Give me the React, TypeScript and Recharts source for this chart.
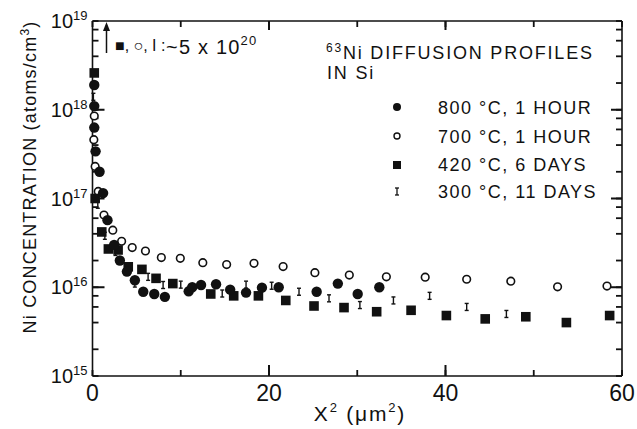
import React from 'react';
import { ScatterChart, Scatter, XAxis, YAxis } from 'recharts';

// ---- data (x = X^2 in um^2, y = Ni concentration in atoms/cm^3) ----
const x800 = [0.2, 0.2, 0.2, 0.35, 0.8, 1.2, 1.7, 2.45, 3.1, 3.9, 4.8, 5.75, 7.0, 8.2, 10.9, 11.3, 12.3, 14.0, 15.6, 17.4, 19.2, 21.1, 25.4, 27.8, 30.05, 32.5];
const y800 = [1.9e18, 1.1e18, 6.3e17, 3.4e17, 2.0e17, 1.15e17, 5.7e16, 3.0e16, 2.0e16, 1.5e16, 1.2e16, 8.9e15, 8.4e15, 7.8e15, 9.0e15, 1.0e16, 1.06e16, 1.08e16, 9.4e15, 8.7e15, 9.9e15, 1.0e16, 8.9e15, 1.1e16, 8.4e15, 1.0e16];

const x700 = [0.2, 0.15, 0.3, 0.65, 1.3, 2.3, 3.3, 4.5, 6.0, 7.8, 9.95, 12.5, 15.2, 18.3, 21.6, 25.2, 29.1, 33.3, 37.7, 42.4, 47.4, 52.7, 58.3];
const y700 = [8.5e17, 4.6e17, 2.3e17, 1.2e17, 6.5e16, 4.4e16, 3.3e16, 2.8e16, 2.56e16, 2.16e16, 2.12e16, 1.89e16, 1.8e16, 1.86e16, 1.71e16, 1.46e16, 1.37e16, 1.31e16, 1.3e16, 1.23e16, 1.17e16, 1.01e16, 1.03e16];

const x420 = [0.2, 0.3, 1.05, 1.8, 2.9, 4.05, 5.6, 7.2, 9.1, 13.4, 16.0, 18.8, 21.9, 25.1, 28.5, 32.2, 36.1, 40.1, 44.5, 49.1, 53.7, 58.6];
const y420 = [2.6e18, 1.0e17, 4.2e16, 2.7e16, 2.63e16, 1.7e16, 1.59e16, 1.26e16, 1.1e16, 8.4e15, 8.0e15, 8.0e15, 7.1e15, 6.15e15, 5.9e15, 5.3e15, 5.5e15, 4.8e15, 4.4e15, 4.65e15, 4.0e15, 4.8e15];

const x300 = [0.1, 0.6, 1.4, 2.6, 4.8, 6.3, 8.0, 10.0, 14.7, 17.4, 20.3, 23.4, 26.8, 30.3, 34.1, 38.2, 42.4, 46.9];
const y300 = [1.4e18, 8.5e16, 3.8e16, 2.5e16, 1.1e16, 1.31e16, 1.06e16, 1.07e16, 8.5e15, 1.07e16, 1.04e16, 8.9e15, 7.5e15, 6.3e15, 7.1e15, 8.0e15, 6.0e15, 5.0e15];

const seriesNames = ['800 °C, 1 HOUR', '700 °C, 1 HOUR', '420 °C, 6 DAYS', '300 °C, 11 DAYS'];

const xTicks = [0, 10, 20, 30, 40, 50, 60];
const xLabeled = [0, 20, 40, 60];
const yDecades = [1e15, 1e16, 1e17, 1e18, 1e19];
const yMinorMultipliers = [2, 4, 6, 8];
const yTicks = [
  ...yDecades,
  ...yDecades.slice(0, 4).flatMap((d) => yMinorMultipliers.map((m) => m * d)),
].sort((a, b) => a - b);

const toData = (xs: number[], ys: number[]) => xs.map((x, i) => ({ x, y: ys[i] }));
const d800 = toData(x800, y800);
const d700 = toData(x700, y700);
const d420 = toData(x420, y420);
const d300 = toData(x300, y300);

const INK = '#111111';
const FONT = '"Liberation Sans", Arial, Helvetica, sans-serif';
const MINOR = 6; // native inward tick length (minor ticks)

const isDecade = (v: number) => {
  const e = Math.round(Math.log10(v));
  return Math.abs(v - Math.pow(10, e)) < 1e-6 * v;
};

// ---- markers ----
const FilledCircle = (p: any) => <circle cx={p.cx} cy={p.cy} r={5.2} fill={INK} />;
const OpenCircle = (p: any) => (
  <circle cx={p.cx} cy={p.cy} r={3.8} fill="#fff" stroke={INK} strokeWidth={1.6} />
);
const FilledSquare = (p: any) => (
  <rect x={p.cx - 4.8} y={p.cy - 4.8} width={9.6} height={9.6} fill={INK} />
);
const IBar = (p: any) => (
  <g stroke={INK} strokeWidth={1.4}>
    <line x1={p.cx} y1={p.cy - 3.5} x2={p.cx} y2={p.cy + 3.5} />
    <line x1={p.cx - 2} y1={p.cy - 3.5} x2={p.cx + 2} y2={p.cy - 3.5} />
    <line x1={p.cx - 2} y1={p.cy + 3.5} x2={p.cx + 2} y2={p.cy + 3.5} />
  </g>
);

// ---- tick renderers: native inward tick lines (length MINOR) + longer major marks ----
// bottom: ty = axisY - MINOR
const renderBottomTick = (props: any) => {
  const x = Number(props.x);
  const axisY = Number(props.y) + MINOR;
  const v = props.payload.value;
  const major = v % 20 === 0 && v !== 0 && v !== 60;
  return (
    <g key={`b-${v}`}>
      <rect x={x - 1} y={axisY - (major ? 11 : 0)} width={2} height={major ? 11 : 0} fill={INK} />
      <text x={x} y={axisY + 25} textAnchor="middle" fontSize={23} fill={INK} fontFamily={FONT}>
        {xLabeled.includes(v) ? String(v) : ''}
      </text>
    </g>
  );
};

// top: ty = axisY + MINOR
const renderTopTick = (props: any) => {
  const x = Number(props.x);
  const axisY = Number(props.y) - MINOR;
  const v = props.payload.value;
  const major = v % 20 === 0 && v !== 0 && v !== 60;
  return (
    <g key={`t-${v}`}>
      <rect x={x - 1} y={axisY} width={2} height={major ? 9 : 0} fill={INK} />
    </g>
  );
};

// left: tx = axisX + MINOR
const renderLeftTick = (props: any) => {
  const axisX = Number(props.x) - MINOR;
  const y = Number(props.y);
  const v = props.payload.value;
  const dec = isDecade(v);
  const e = Math.round(Math.log10(v));
  const long = dec && v !== 1e15 && v !== 1e19;
  return (
    <g key={`l-${v}`}>
      <rect x={axisX} y={y - 1} width={long ? 12 : 0} height={2} fill={INK} />
      {dec && (
        <text x={axisX - 5} y={y + 7} textAnchor="end" fontSize={20} fill={INK} fontFamily={FONT}>
          <tspan>10</tspan>
          <tspan fontSize={13} dy={-8}>
            {e}
          </tspan>
        </text>
      )}
    </g>
  );
};

// right: tx = axisX - MINOR
const renderRightTick = (props: any) => {
  const axisX = Number(props.x) + MINOR;
  const y = Number(props.y);
  const v = props.payload.value;
  const long = isDecade(v) && v !== 1e15 && v !== 1e19;
  return (
    <g key={`r-${v}`}>
      <rect x={axisX - (long ? 11 : 0)} y={y - 1} width={long ? 11 : 0} height={2} fill={INK} />
    </g>
  );
};

const tickLineStyle = { stroke: INK, strokeWidth: 1.8 };

export default function App() {
  return (
    <div style={{ position: 'relative', width: 637, height: 429 }}>
      <style>{`body{margin:0;background:#fff}`}</style>
      <ScatterChart
        width={637}
        height={429}
        margin={{ top: 11, right: 5, bottom: 13, left: 30.5 }}
      >
        <XAxis
          xAxisId="b"
          dataKey="x"
          type="number"
          domain={[0, 60]}
          ticks={xTicks}
          interval={0}
          height={40}
          tickSize={-MINOR}
          tickMargin={0}
          tickLine={tickLineStyle}
          axisLine={{ stroke: INK, strokeWidth: 1.6 }}
          tick={renderBottomTick}
        />
        <XAxis
          xAxisId="t"
          orientation="top"
          dataKey="x"
          type="number"
          domain={[0, 60]}
          ticks={xTicks}
          interval={0}
          height={10}
          tickSize={-MINOR}
          tickMargin={0}
          tickLine={tickLineStyle}
          axisLine={{ stroke: INK, strokeWidth: 1.6 }}
          tick={renderTopTick}
        />
        <YAxis
          yAxisId="l"
          dataKey="y"
          type="number"
          scale="log"
          domain={[1e15, 1e19]}
          ticks={yTicks}
          interval={0}
          width={62}
          tickSize={-MINOR}
          tickMargin={0}
          tickLine={tickLineStyle}
          axisLine={{ stroke: INK, strokeWidth: 1.6 }}
          tick={renderLeftTick}
        />
        <YAxis
          yAxisId="r"
          orientation="right"
          dataKey="y"
          type="number"
          scale="log"
          domain={[1e15, 1e19]}
          ticks={yTicks}
          interval={0}
          width={10}
          tickSize={-MINOR}
          tickMargin={0}
          tickLine={tickLineStyle}
          axisLine={{ stroke: INK, strokeWidth: 1.6 }}
          tick={renderRightTick}
        />
        <Scatter data={d700} xAxisId="t" yAxisId="r" shape={() => <g />} isAnimationActive={false} legendType="none" />
        <Scatter name={seriesNames[1]} data={d700} xAxisId="b" yAxisId="l" shape={OpenCircle} isAnimationActive={false} />
        <Scatter name={seriesNames[3]} data={d300} xAxisId="b" yAxisId="l" shape={IBar} isAnimationActive={false} />
        <Scatter name={seriesNames[2]} data={d420} xAxisId="b" yAxisId="l" shape={FilledSquare} isAnimationActive={false} />
        <Scatter name={seriesNames[0]} data={d800} xAxisId="b" yAxisId="l" shape={FilledCircle} isAnimationActive={false} />
      </ScatterChart>

      <svg
        width={637}
        height={429}
        style={{ position: 'absolute', left: 0, top: 0, pointerEvents: 'none' }}
        fontFamily={FONT}
        fill={INK}
      >
        {/* axis titles */}
        <text x={360} y={421} textAnchor="middle" fontSize={21} letterSpacing={1.8}>
          <tspan>X</tspan>
          <tspan fontSize={13} dy={-9}>2</tspan>
          <tspan dy={9}> (μm</tspan>
          <tspan fontSize={13} dy={-9}>2</tspan>
          <tspan dy={9}>)</tspan>
        </text>
        <text
          transform="translate(36,177) rotate(-90)"
          x={0}
          y={0}
          textAnchor="middle"
          fontSize={18}
          letterSpacing={1.2}
        >
          <tspan>Ni CONCENTRATION (atoms/cm</tspan>
          <tspan fontSize={12} dy={-7}>3</tspan>
          <tspan dy={7}>)</tspan>
        </text>

        {/* annotation arrow */}
        <line x1={106.5} y1={53} x2={106.5} y2={28} stroke={INK} strokeWidth={1.5} />
        <polygon points="103,31 106.5,22 110,31" fill={INK} />
        <text x={115} y={51} fontSize={16}>
          ■, ○, I :
        </text>
        <text x={166} y={54} fontSize={20} letterSpacing={1.2}>
          <tspan>~5 x 10</tspan>
          <tspan fontSize={13} dy={-9}>20</tspan>
        </text>

        {/* title */}
        <text x={326} y={59} fontSize={18} letterSpacing={1.8}>
          <tspan fontSize={12} dy={-7}>63</tspan>
          <tspan dy={7}>Ni DIFFUSION PROFILES</tspan>
        </text>
        <text x={327} y={79} fontSize={18} letterSpacing={1.8}>
          IN Si
        </text>

        {/* legend */}
        <circle cx={397} cy={107} r={4} fill={INK} />
        <text x={438} y={113.5} fontSize={18} letterSpacing={1.5}>{seriesNames[0]}</text>
        <circle cx={397} cy={136} r={3} fill="#fff" stroke={INK} strokeWidth={1.4} />
        <text x={438} y={142.5} fontSize={18} letterSpacing={1.5}>{seriesNames[1]}</text>
        <rect x={393} y={161} width={8} height={8} fill={INK} />
        <text x={438} y={171} fontSize={18} letterSpacing={1.5}>{seriesNames[2]}</text>
        <g stroke={INK} strokeWidth={1.3}>
          <line x1={397} y1={188} x2={397} y2={195} />
          <line x1={395} y1={188} x2={399} y2={188} />
          <line x1={395} y1={195} x2={399} y2={195} />
        </g>
        <text x={438} y={198} fontSize={18} letterSpacing={1.5}>{seriesNames[3]}</text>
      </svg>
    </div>
  );
}
